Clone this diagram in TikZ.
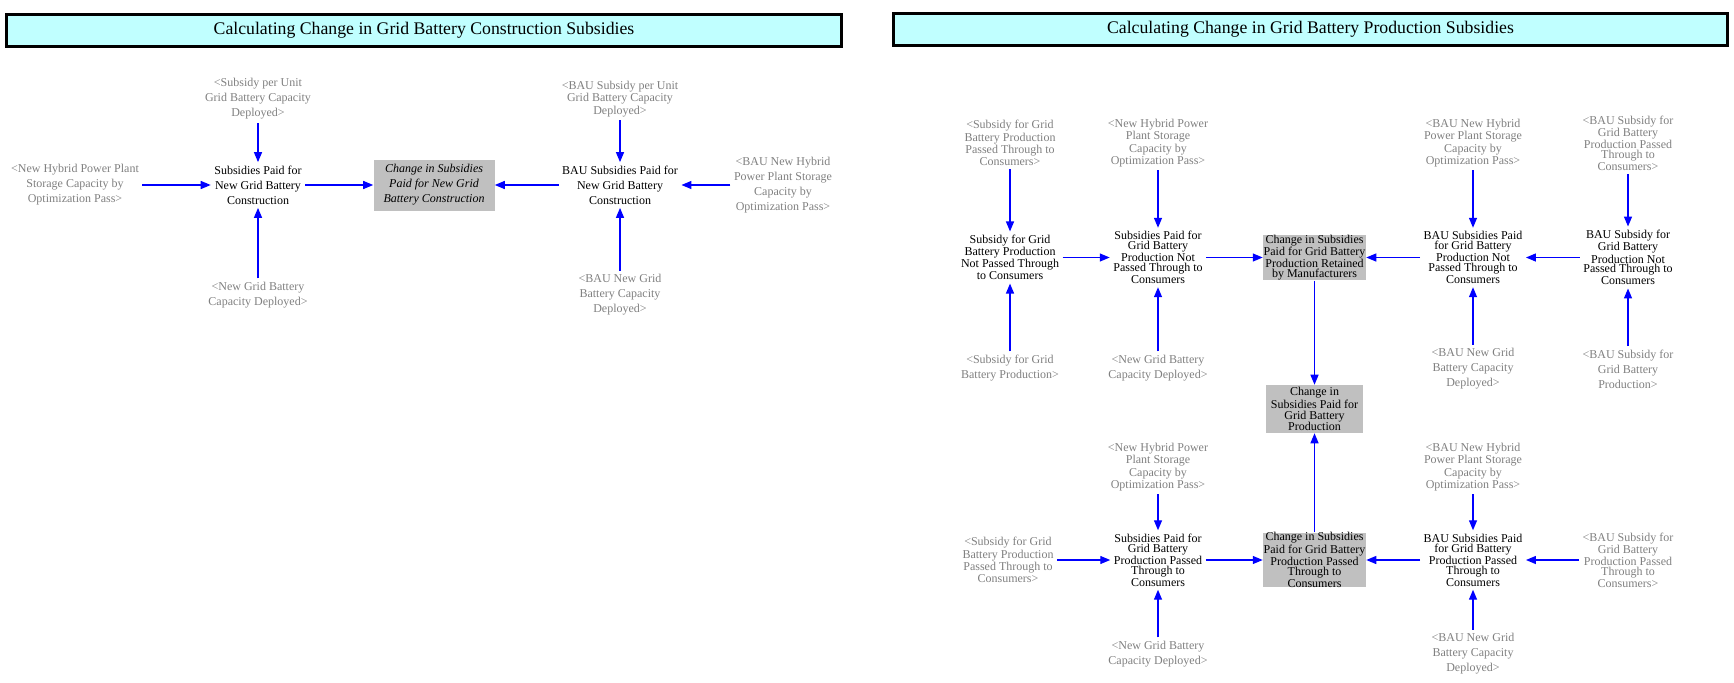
\documentclass[tikz,border=0pt]{standalone}
\usepackage{fontspec}
\setmainfont{Liberation Serif}
\usetikzlibrary{arrows.meta}
\definecolor{titlecyan}{RGB}{192,255,255}
\definecolor{boxgray}{RGB}{192,192,192}
\definecolor{ghostgray}{RGB}{128,128,128}
\definecolor{linkblue}{RGB}{0,0,255}
\begin{document}
\begin{tikzpicture}[x=0.75pt,y=-0.75pt,
    var/.style={align=center,inner sep=2.5pt,font=\fontsize{9}{11.25}\selectfont},
    tight/.style={font=\fontsize{9}{7.5}\selectfont},
    squeezed/.style={font=\fontsize{9}{5.4}\selectfont},
    ghost/.style={var,text=ghostgray},
    change/.style={var,fill=boxgray,inner sep=0pt},
    heading/.style={draw,line width=2.25pt,fill=titlecyan,inner sep=0pt,
                    minimum height=24pt,font=\fontsize{13.3}{16}\selectfont}]
\tikzset{link/.style={draw=linkblue,line width=1pt,-{Triangle[length=7.5pt,width=6pt]}}}
\useasboundingbox (0,0) rectangle (1734,682);
% headings
\node[heading,minimum width=626.25pt] (titleA) at (424,30.5) {Calculating Change in Grid Battery Construction Subsidies};
\node[heading,minimum width=625.5pt] (titleB) at (1310.5,29.2) {Calculating Change in Grid Battery Production Subsidies};
% construction subsidies
\node[ghost] (subUnit) at (258,99) {<Subsidy per Unit\\Grid Battery Capacity\\Deployed>};
\node[ghost] (newHybrid) at (75,185) {<New Hybrid Power Plant\\Storage Capacity by\\Optimization Pass>};
\node[var] (subPaid) at (258,185) {Subsidies Paid for\\New Grid Battery\\Construction};
\node[change,minimum width=90.75pt,minimum height=38.25pt] (changeNew) at (434,185) {\itshape Change in Subsidies\\\itshape Paid for New Grid\\\itshape Battery Construction};
\node[var] (bauPaid) at (620,185) {BAU Subsidies Paid for\\New Grid Battery\\Construction};
\node[ghost] (bauHybrid) at (783,185) {<BAU New Hybrid\\Power Plant Storage\\Capacity by\\Optimization Pass>};
\node[ghost] (newGrid) at (258,295) {<New Grid Battery\\Capacity Deployed>};
\node[ghost,tight] (bauUnit) at (620,99) {<BAU Subsidy per Unit\\Grid Battery Capacity\\Deployed>};
\node[ghost] (bauGrid) at (620,295) {<BAU New Grid\\Battery Capacity\\Deployed>};
\draw[link] (subUnit) -- (subPaid);
\draw[link] (newHybrid) -- (subPaid);
\draw[link] (newGrid) -- (subPaid);
\draw[link] (subPaid) -- (changeNew);
\draw[link] (bauPaid) -- (changeNew);
\draw[link] (bauHybrid) -- (bauPaid);
\draw[link] (bauUnit) -- (bauPaid);
\draw[link] (bauGrid) -- (bauPaid);
% production subsidies, not passed through
\node[ghost,tight] (subPass) at (1010,143) {<Subsidy for Grid\\Battery Production\\Passed Through to\\Consumers>};
\node[ghost,tight] (newHybridB) at (1158,143) {<New Hybrid Power\\Plant Storage\\Capacity by\\Optimization Pass>};
\node[ghost,tight] (bauHybridB) at (1473,143) {<BAU New Hybrid\\Power Plant Storage\\Capacity by\\Optimization Pass>};
\node[ghost,squeezed] (bauPassA) at (1628,143) {<BAU Subsidy for\\Grid Battery\\Production Passed\\Through to\\Consumers>};
\node[var,tight] (subNot) at (1010,257.5) {Subsidy for Grid\\Battery Production\\Not Passed Through\\to Consumers};
\node[var,squeezed] (paidNot) at (1158,257.5) {Subsidies Paid for\\Grid Battery\\Production Not\\Passed Through to\\Consumers};
\node[change,tight,minimum width=77.25pt,minimum height=33.75pt] (changeRet) at (1314.5,257.5) {Change in Subsidies\\Paid for Grid Battery\\Production Retained\\by Manufacturers};
\node[var,squeezed] (bauPaidNot) at (1473,257.5) {BAU Subsidies Paid\\for Grid Battery\\Production Not\\Passed Through to\\Consumers};
\node[var,squeezed] (bauSubNot) at (1628,257.5) {BAU Subsidy for\\Grid Battery\\Production Not\\Passed Through to\\Consumers};
\node[ghost] (subProd) at (1010,368) {<Subsidy for Grid\\Battery Production>};
\node[ghost] (newGridB) at (1158,368) {<New Grid Battery\\Capacity Deployed>};
\node[ghost] (bauGridB) at (1473,369) {<BAU New Grid\\Battery Capacity\\Deployed>};
\node[ghost] (bauProd) at (1628,369) {<BAU Subsidy for\\Grid Battery\\Production>};
\draw[link] (subPass) -- (subNot);
\draw[link] (subProd) -- (subNot);
\draw[link] (subNot) -- (paidNot);
\draw[link] (newHybridB) -- (paidNot);
\draw[link] (newGridB) -- (paidNot);
\draw[link] (paidNot) -- (changeRet);
\draw[link] (bauPaidNot) -- (changeRet);
\draw[link] (bauHybridB) -- (bauPaidNot);
\draw[link] (bauGridB) -- (bauPaidNot);
\draw[link] (bauSubNot) -- (bauPaidNot);
\draw[link] (bauPassA) -- (bauSubNot);
\draw[link] (bauProd) -- (bauSubNot);
% total
\node[change,tight,font=\fontsize{9}{8.25}\selectfont,minimum width=72.75pt,minimum height=36pt] (changeProd) at (1314.5,409) {Change in\\Subsidies Paid for\\Grid Battery\\Production};
% production subsidies, passed through
\node[ghost,tight] (newHybridC) at (1158,467) {<New Hybrid Power\\Plant Storage\\Capacity by\\Optimization Pass>};
\node[ghost,tight] (bauHybridC) at (1473,467) {<BAU New Hybrid\\Power Plant Storage\\Capacity by\\Optimization Pass>};
\node[ghost,tight] (subPassB) at (1008,560) {<Subsidy for Grid\\Battery Production\\Passed Through to\\Consumers>};
\node[var,squeezed] (paidPass) at (1158,560) {Subsidies Paid for\\Grid Battery\\Production Passed\\Through to\\Consumers};
\node[change,squeezed,minimum width=77.25pt,minimum height=33pt] (changePass) at (1314.5,560) {Change in Subsidies\\Paid for Grid Battery\\Production Passed\\Through to\\Consumers};
\node[var,squeezed] (bauPaidPass) at (1473,560) {BAU Subsidies Paid\\for Grid Battery\\Production Passed\\Through to\\Consumers};
\node[ghost,squeezed] (bauPassB) at (1628,560) {<BAU Subsidy for\\Grid Battery\\Production Passed\\Through to\\Consumers>};
\node[ghost] (newGridC) at (1158,654) {<New Grid Battery\\Capacity Deployed>};
\node[ghost] (bauGridC) at (1473,654) {<BAU New Grid\\Battery Capacity\\Deployed>};
\draw[link] (newHybridC) -- (paidPass);
\draw[link] (subPassB) -- (paidPass);
\draw[link] (newGridC) -- (paidPass);
\draw[link] (paidPass) -- (changePass);
\draw[link] (bauPaidPass) -- (changePass);
\draw[link] (bauHybridC) -- (bauPaidPass);
\draw[link] (bauPassB) -- (bauPaidPass);
\draw[link] (bauGridC) -- (bauPaidPass);
\draw[link] (changeRet) -- (changeProd);
\draw[link] (changePass) -- (changeProd);
\end{tikzpicture}
\end{document}
